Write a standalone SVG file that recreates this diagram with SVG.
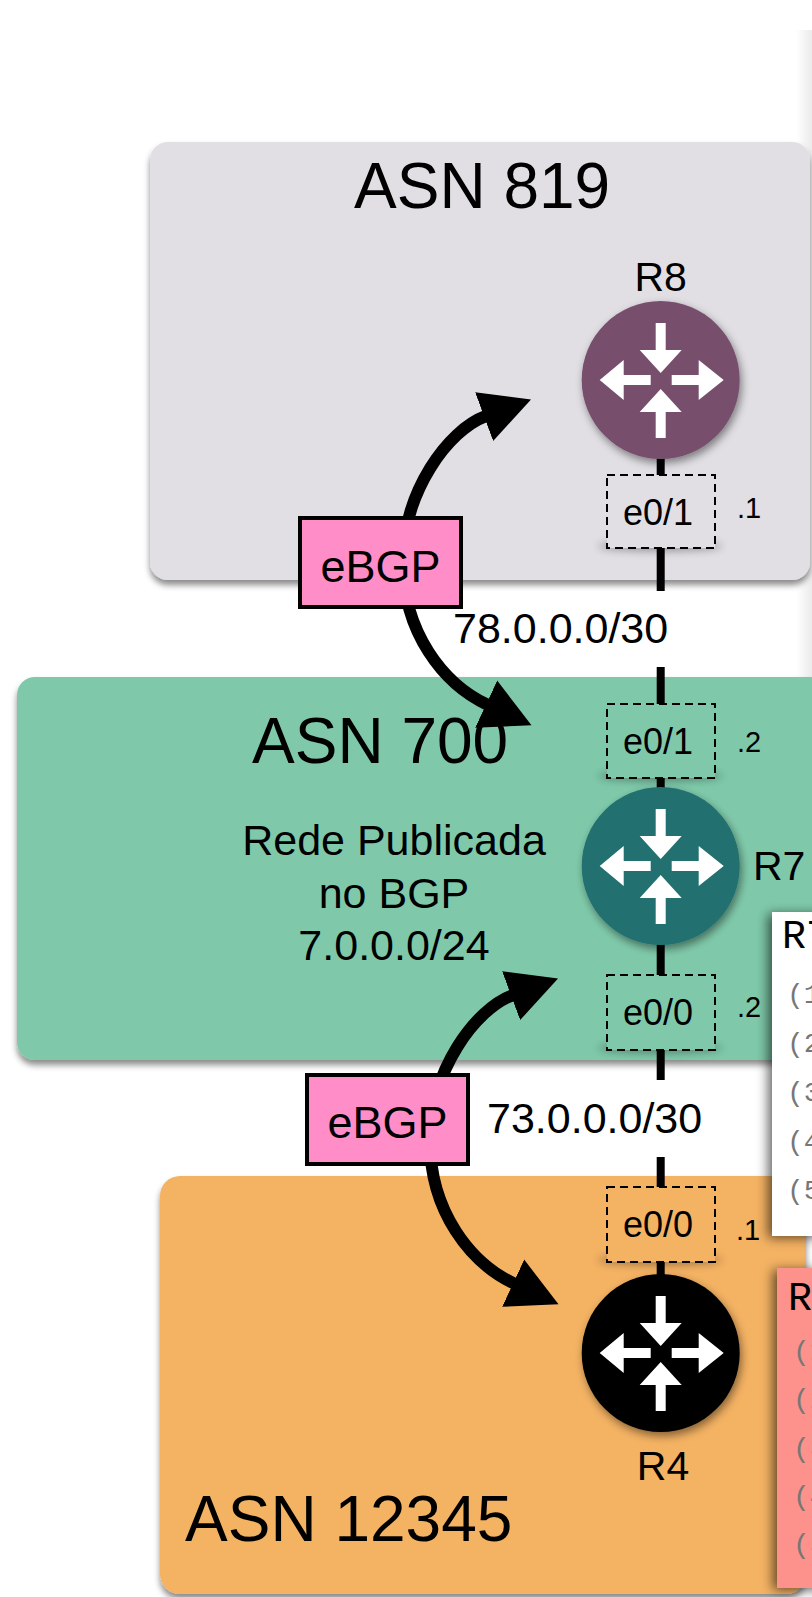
<svg xmlns="http://www.w3.org/2000/svg" width="812" height="1597" viewBox="0 0 812 1597">
<style>
.sans{font-family:"Liberation Sans",Arial,sans-serif;fill:#000}
.asn{font-size:64px}
.rl{font-size:41px}
.ifc{font-size:36px;text-anchor:middle}
.ip{font-size:29px}
.net{font-size:43px}
.mono{font-family:"Liberation Mono","Courier New",monospace}
.th{font-size:40px;fill:#000}
.tl{font-size:28px;fill:#777}
.link{stroke:#000;stroke-width:8;fill:none}
.ifbox{stroke:#000;stroke-width:2;stroke-dasharray:8 5}
.bgp{fill:#fe8dc8;stroke:#000;stroke-width:4}
.arc{fill:none;stroke:#000;stroke-width:12;marker-start:url(#ah);marker-end:url(#ah)}
</style>
<defs>
<filter id="boxShadow" x="-5%" y="-5%" width="112%" height="115%">
<feDropShadow dx="0" dy="5" stdDeviation="3" flood-color="#000" flood-opacity="0.45"/>
</filter>
<filter id="rtrShadow" x="-20%" y="-20%" width="140%" height="140%">
<feDropShadow dx="2" dy="4" stdDeviation="4" flood-color="#000" flood-opacity="0.45"/>
</filter>
<filter id="tblShadow" x="-30%" y="-10%" width="160%" height="130%">
<feDropShadow dx="-4" dy="2" stdDeviation="6" flood-color="#000" flood-opacity="0.6"/>
</filter>
<filter id="blur" x="-30%" y="-200%" width="160%" height="500%">
<feGaussianBlur stdDeviation="4"/>
</filter>
<linearGradient id="edge" x1="0" y1="0" x2="1" y2="0">
<stop offset="0" stop-color="#000" stop-opacity="0"/>
<stop offset="1" stop-color="#000" stop-opacity="0.08"/>
</linearGradient>
<marker id="ah" markerUnits="userSpaceOnUse" markerWidth="52" markerHeight="54" viewBox="0 -27 52 54" refX="2" refY="0" orient="auto-start-reverse">
<path d="M0,-26 L50,0 L0,26 z" fill="#000"/>
</marker>
<g id="rtrIcon" fill="#fff">
<polygon points="-5,-57 5,-57 5,-30 21,-30 0,-7 -21,-30 -5,-30"/>
<polygon points="-5,58 5,58 5,32 21,32 0,9 -21,32 -5,32"/>
<polygon points="-10,-5 -37,-5 -37,-20 -61,0 -37,20 -37,5 -10,5"/>
<polygon points="11,-5 38,-5 38,-20 63,0 38,20 38,5 11,5"/>
</g>
</defs>

<rect width="812" height="1597" fill="#fff"/>
<rect x="796" y="30" width="16" height="680" fill="url(#edge)"/>

<g id="asn819">
<rect x="150" y="142" width="660" height="438" rx="18" fill="#e1dfe4" filter="url(#boxShadow)"/>
<text class="sans asn" x="354" y="208">ASN 819</text>
</g>
<g id="asn700">
<rect x="17" y="677" width="820" height="383" rx="18" fill="#7fc9aa" filter="url(#boxShadow)"/>
<text class="sans asn" x="252" y="763">ASN 700</text>
<text class="sans net" x="394" y="855" text-anchor="middle">Rede Publicada</text>
<text class="sans net" x="394" y="908" text-anchor="middle">no BGP</text>
<text class="sans net" x="394" y="960" text-anchor="middle">7.0.0.0/24</text>
</g>
<g id="asn12345">
<rect x="160" y="1176" width="646" height="418" rx="20" fill="#f4b263" filter="url(#boxShadow)"/>
<text class="sans asn" x="185" y="1541">ASN 12345</text>
</g>

<g id="connectors">
<line class="link" x1="660.7" y1="455" x2="660.7" y2="710"/>
<line class="link" x1="660.7" y1="775" x2="660.7" y2="980"/>
<line class="link" x1="660.7" y1="1045" x2="660.7" y2="1280"/>
<g id="link78">
<rect x="450" y="591" width="238" height="76" fill="#fff"/>
<text class="sans net" x="453" y="643">78.0.0.0/30</text>
</g>
<g id="link73">
<rect x="476" y="1080" width="296" height="77" fill="#fff"/>
<text class="sans net" x="487" y="1133">73.0.0.0/30</text>
</g>
</g>

<g id="ifaces">
<ellipse cx="660" cy="546" rx="62" ry="5" fill="#000" opacity="0.35" filter="url(#blur)"/>
<rect class="ifbox" x="607" y="475" width="108" height="73" fill="#e1dfe4"/>
<text class="sans ifc" x="658" y="525">e0/1</text>
<text class="sans ip" x="737" y="518">.1</text>

<ellipse cx="660" cy="776" rx="62" ry="5" fill="#000" opacity="0.35" filter="url(#blur)"/>
<rect class="ifbox" x="607" y="704" width="108" height="74" fill="#7fc9aa"/>
<text class="sans ifc" x="658" y="754">e0/1</text>
<text class="sans ip" x="737" y="752">.2</text>

<ellipse cx="660" cy="1048" rx="62" ry="5" fill="#000" opacity="0.35" filter="url(#blur)"/>
<rect class="ifbox" x="607" y="975" width="108" height="75" fill="#7fc9aa"/>
<text class="sans ifc" x="658" y="1025">e0/0</text>
<text class="sans ip" x="737" y="1017">.2</text>

<ellipse cx="660" cy="1260" rx="62" ry="5" fill="#000" opacity="0.35" filter="url(#blur)"/>
<rect class="ifbox" x="607" y="1187" width="108" height="75" fill="#f4b263"/>
<text class="sans ifc" x="658" y="1237">e0/0</text>
<text class="sans ip" x="736" y="1240">.1</text>
</g>

<g id="R8">
<circle cx="660.7" cy="380" r="79" fill="#774f6d" filter="url(#rtrShadow)"/>
<use href="#rtrIcon" x="660.7" y="380"/>
<text class="sans rl" x="660.7" y="291" text-anchor="middle">R8</text>
</g>
<g id="R7">
<circle cx="660.7" cy="866" r="79" fill="#217170" filter="url(#rtrShadow)"/>
<use href="#rtrIcon" x="660.7" y="866"/>
<text class="sans rl" x="753" y="880">R7</text>
</g>
<g id="R4">
<circle cx="660.7" cy="1353" r="79" fill="#000" filter="url(#rtrShadow)"/>
<use href="#rtrIcon" x="660.7" y="1353"/>
<text class="sans rl" x="663" y="1480" text-anchor="middle">R4</text>
</g>

<g id="bgp-arrows">
<path class="arc" d="M486 416 C448 430 403 492 403 562 C403 632 443 684 488 705"/>
<path class="arc" d="M513 995 C475 1009 430 1071 430 1141 C430 1211 470 1263 515 1284"/>
</g>
<g id="ebgp1">
<rect class="bgp" x="300" y="518" width="161" height="89"/>
<text class="sans" x="380.5" y="582" font-size="45" text-anchor="middle">eBGP</text>
</g>
<g id="ebgp2">
<rect class="bgp" x="307" y="1075" width="161" height="89"/>
<text class="sans" x="387.5" y="1138" font-size="45" text-anchor="middle">eBGP</text>
</g>

<g id="tableR7">
<rect x="772" y="912" width="80" height="324" fill="#fff" filter="url(#tblShadow)"/>
<text class="mono th" x="782" y="948">R7</text>
<text class="mono tl" x="787" y="1003">(1</text>
<text class="mono tl" x="787" y="1052">(2</text>
<text class="mono tl" x="787" y="1101">(3</text>
<text class="mono tl" x="787" y="1150">(4</text>
<text class="mono tl" x="787" y="1199">(5</text>
</g>
<g id="tableR4">
<rect x="777" y="1268" width="80" height="320" fill="#fc928b" filter="url(#tblShadow)"/>
<text class="mono th" x="788" y="1310">R</text>
<text class="mono tl" x="793" y="1360">(1</text>
<text class="mono tl" x="793" y="1408">(2</text>
<text class="mono tl" x="793" y="1457">(3</text>
<text class="mono tl" x="793" y="1505">(4</text>
<text class="mono tl" x="793" y="1553">(5</text>
</g>
</svg>
